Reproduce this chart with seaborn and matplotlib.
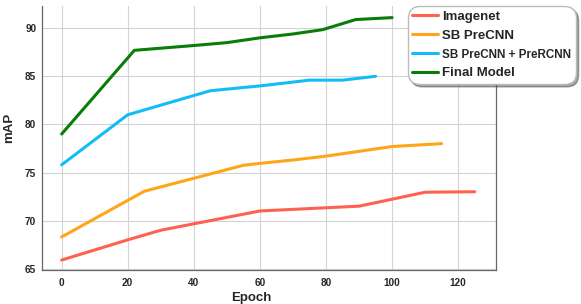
import numpy as np
import pandas as pd
import matplotlib
matplotlib.use("Agg")
import matplotlib.pyplot as plt
import seaborn as sns

# values
imagenet_epoch = [0, 20, 30, 45, 60, 75, 90, 110, 125]
imagenet_map = [65.9, 68.0, 69.0, 70.0, 71.0, 71.25, 71.5, 72.95, 73.0]

precnn_epoch = [0, 20, 25, 40, 55, 60, 70, 80, 90, 100, 115]
precnn_map = [68.3, 72.1, 73.05, 74.4, 75.75, 75.95, 76.3, 76.7, 77.2, 77.7, 78.0]

prercnn_epoch = [0, 20, 45, 60, 75, 85, 95]
prercnn_map = [75.8, 81.0, 83.5, 84.0, 84.6, 84.6, 85.0]

final_epoch = [0, 22, 40, 50, 60, 70, 79, 89, 100]
final_map = [79.0, 87.7, 88.2, 88.5, 89.0, 89.4, 89.85, 90.9, 91.1]

names = ["Imagenet", "SB PreCNN", "SB PreCNN + PreRCNN", "Final Model"]
colors = ["#ff6150", "#ffa51a", "#12bdf7", "#087d08"]

frames = []
for name, ep, mp in zip(names,
                        [imagenet_epoch, precnn_epoch, prercnn_epoch, final_epoch],
                        [imagenet_map, precnn_map, prercnn_map, final_map]):
    frames.append(pd.DataFrame({"Epoch": ep, "mAP": mp, "model": name}))
df = pd.concat(frames, ignore_index=True)

sns.set_style("whitegrid")
plt.rcParams["font.family"] = ["Liberation Sans", "DejaVu Sans"]

fig = plt.figure(figsize=(5.81, 3.04), dpi=100)
ax = fig.add_axes([0.072, 0.112, 0.782, 0.868])

sns.lineplot(data=df, x="Epoch", y="mAP", hue="model", hue_order=names,
             palette=dict(zip(names, colors)), linewidth=2.2, ax=ax,
             legend=False, sort=False)

ax.set_xlim(-6, 131.5)
ax.set_ylim(64.87, 92.3)
ax.set_xticks([0, 20, 40, 60, 80, 100, 120])
ax.set_yticks([65, 70, 75, 80, 85, 90])
ax.grid(True, color="#d3d3d3", linewidth=0.8)
ax.tick_params(axis="both", length=0, labelsize=7.2)
ax.tick_params(axis="x", pad=6)
ax.tick_params(axis="y", pad=4)
for lab in ax.get_xticklabels() + ax.get_yticklabels():
    lab.set_fontweight("bold")

for s in ["left", "bottom", "right"]:
    ax.spines[s].set_visible(True)
    ax.spines[s].set_color("#666666")
    ax.spines[s].set_linewidth(0.9)
ax.spines["top"].set_visible(False)

ax.set_xlabel("Epoch", fontsize=9.5, fontweight="bold")
ax.set_ylabel("mAP", fontsize=9.5, fontweight="bold")
ax.xaxis.set_label_coords(0.46, -0.085)
ax.yaxis.set_label_coords(-0.058, 0.54)

handles = [plt.Line2D([], [], color=c, linewidth=2.2) for c in colors]
leg = fig.legend(handles, names, loc="upper right", bbox_to_anchor=(0.991, 0.98),
                 fancybox=True, shadow=True, framealpha=1, handlelength=1.9,
                 handletextpad=0.35, borderpad=0.35, borderaxespad=0.0,
                 labelspacing=0.5, prop={"weight": "bold", "size": 9.5})
leg.get_frame().set_edgecolor("#bbbbbb")
leg.get_frame().set_boxstyle("round,pad=0,rounding_size=0.9")
leg.get_texts()[2].set_fontsize(8.4)

fig.savefig("out.png", dpi=100)
